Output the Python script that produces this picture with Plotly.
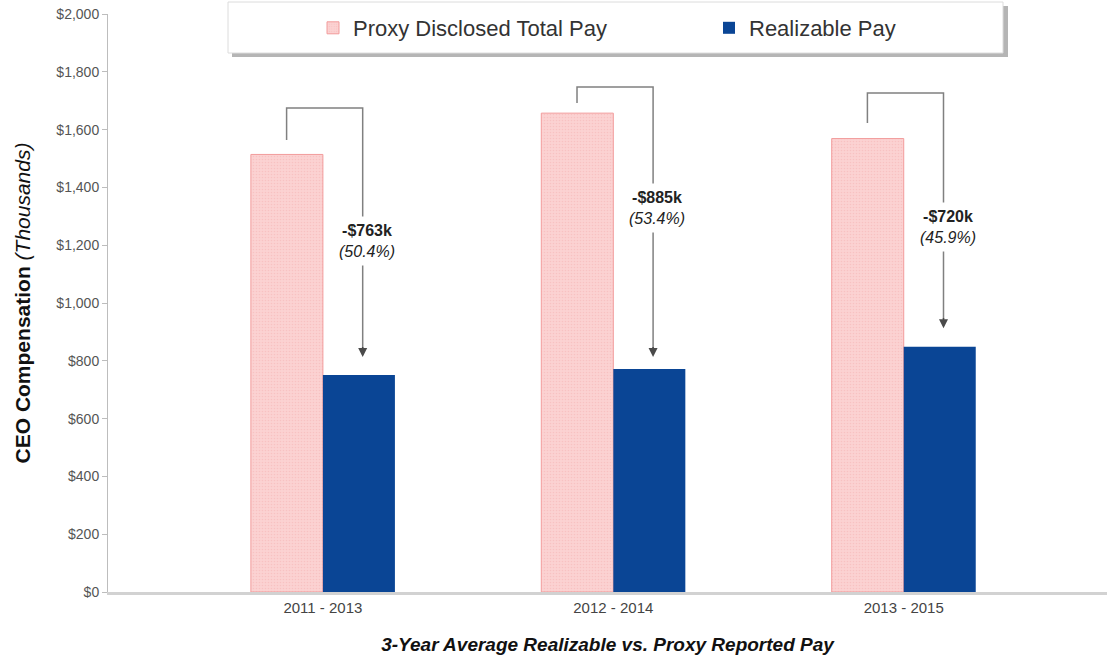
import plotly.graph_objects as go

# Three-year averaging windows
periods = ["2011 - 2013", "2012 - 2014", "2013 - 2015"]

# CEO compensation, $ thousands
proxy_total = [1514, 1657, 1569]
realizable = [751, 772, 849]

# Y axis ticks
y_ticks = [0, 200, 400, 600, 800, 1000, 1200, 1400, 1600, 1800, 2000]
y_tick_text = ["$0", "$200", "$400", "$600", "$800", "$1,000", "$1,200",
               "$1,400", "$1,600", "$1,800", "$2,000"]

# Bracket geometry (data units): start above proxy bar, top of bracket,
# arrow tip above realizable bar, label centre height
bracket_start_gap = [50, 35, 54]
bracket_top = [1675, 1747, 1727]
arrow_tip_gap = [62, 41, 64]
label_y = [1215, 1330, 1263]

x_pos = list(range(len(periods)))

FONT = "Liberation Sans, Arial, sans-serif"
PINK = "#fbd2d2"
PINK_EDGE = "#f29c9c"
BLUE = "#0a4595"
LINE = "#808080"

fig = go.Figure()
fig.add_trace(go.Bar(
    x=x_pos, y=proxy_total, name="Proxy Disclosed Total Pay", legend="legend",
    marker=dict(color=PINK, line=dict(color=PINK_EDGE, width=1),
                pattern=dict(shape=".", fgcolor="#f3b2b2", size=3, solidity=0.25)),
))
fig.add_trace(go.Bar(
    x=x_pos, y=realizable, name="Realizable Pay", legend="legend2",
    marker=dict(color=BLUE, line=dict(width=0)),
))

left_off = -0.125
right_off = 0.137
for i in x_pos:
    p, r = proxy_total[i], realizable[i]
    diff = p - r
    pct = diff / p * 100
    xl, xr = i + left_off, i + right_off
    tip = r + arrow_tip_gap[i]
    fig.add_shape(type="path",
                  path=f"M {xl},{p + bracket_start_gap[i]} L {xl},{bracket_top[i]} "
                       f"L {xr},{bracket_top[i]} L {xr},{tip + 30}",
                  line=dict(color=LINE, width=1.5), xref="x", yref="y", layer="above")
    fig.add_annotation(x=xr, y=tip, ax=xr, ay=tip + 40, xref="x", yref="y",
                       axref="x", ayref="y", text="", showarrow=True,
                       arrowhead=2, arrowsize=1.2, arrowwidth=1.5, arrowcolor="#4a4a4a")
    fig.add_annotation(x=xr + 0.015, y=label_y[i], xref="x", yref="y",
                       text=f"<b>-${diff}k</b><br><i>({pct:.1f}%)</i>",
                       showarrow=False, bgcolor="white", borderpad=5,
                       font=dict(family=FONT, size=16, color="#222222"))

# Legend frame with drop shadow
px0, pw = 108, 999
py0, ph = 592, 578
def px(v):
    return (v - px0) / pw
def py(v):
    return (py0 - v) / ph
fig.add_shape(type="rect", xref="paper", yref="paper",
              x0=px(232), x1=px(1008), y0=py(57), y1=py(6),
              fillcolor="#b5b5b5", line=dict(width=0), layer="below")
fig.add_shape(type="rect", xref="paper", yref="paper",
              x0=px(228), x1=px(1003), y0=py(53), y1=py(2),
              fillcolor="white", line=dict(color="#dcdcdc", width=1), layer="below")

legend_style = dict(orientation="h", xanchor="left", y=py(28), yanchor="middle",
                    bgcolor="rgba(0,0,0,0)", borderwidth=0, itemclick=False,
                    itemwidth=30,
                    font=dict(family=FONT, size=22, color="#333333"))

fig.update_layout(
    width=1107, height=655,
    margin=dict(l=108, r=0, t=14, b=63),
    paper_bgcolor="white", plot_bgcolor="white",
    barmode="group", bargap=0.504, bargroupgap=0,
    font=dict(family=FONT, color="#333333"),
    showlegend=True,
    legend=dict(x=px(313), **legend_style),
    legend2=dict(x=px(709), **legend_style),
    xaxis=dict(range=[-0.74, 2.70], tickvals=x_pos, ticktext=periods,
               showgrid=False, zeroline=False, showline=True,
               linecolor="#d2d2d2", linewidth=3, ticks="",
               tickfont=dict(size=15, color="#444444"),
               title=dict(text="<b><i>3-Year Average Realizable vs. Proxy Reported Pay</i></b>",
                          font=dict(size=19, color="#111111"), standoff=23)),
    yaxis=dict(range=[0, 2000], tickvals=y_ticks, ticktext=y_tick_text,
               showgrid=False, zeroline=False, showline=True,
               linecolor="#bdbdbd", linewidth=1, ticks="outside", ticklen=5,
               tickcolor="#bdbdbd", tickfont=dict(size=14, color="#555555"),
               title=dict(text="<b>CEO Compensation</b> <i>(Thousands)</i>",
                          font=dict(size=21, color="#111111"), standoff=20)),
)

fig.write_html("out.html")
